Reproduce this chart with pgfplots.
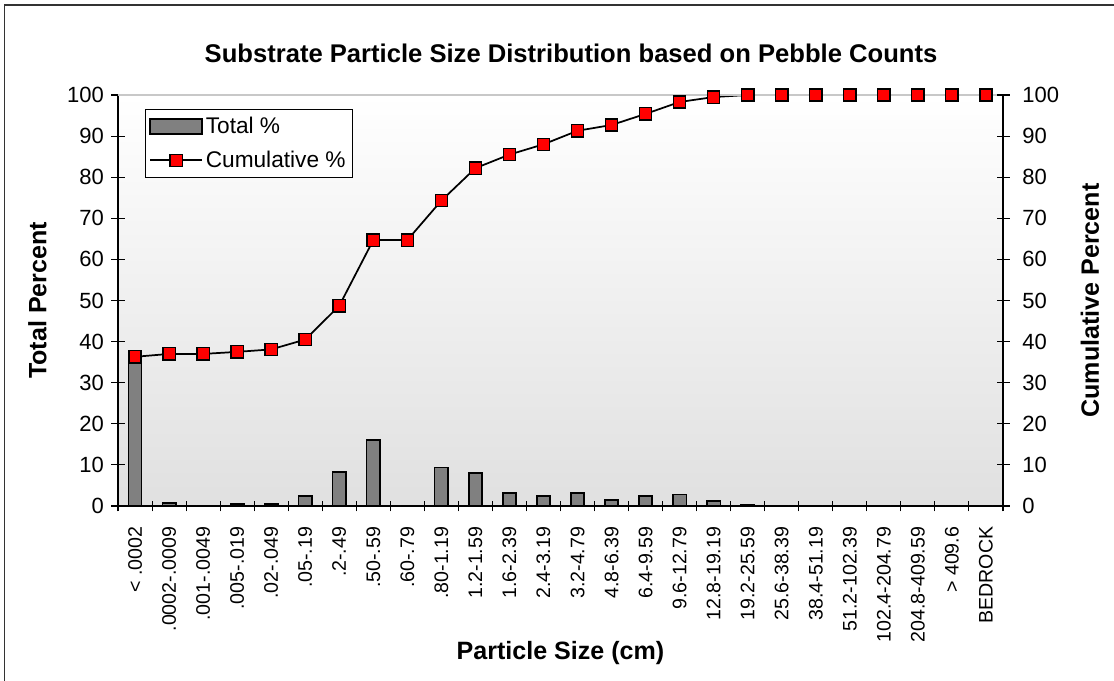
\documentclass[border=0pt]{standalone}
\usepackage{pgfplots}
\pgfplotsset{compat=1.18}
\usepackage{fontspec}
\setmainfont{Liberation Sans}
\definecolor{bargray}{RGB}{128,128,128}
\definecolor{bgbottom}{RGB}{224,224,224}
\definecolor{topline}{RGB}{200,200,200}

\pgfplotstableread{
x total cum
0 36.3 36.3
1 0.8 37.0
2 0.0 37.0
3 0.5 37.5
4 0.5 38.1
5 2.5 40.5
6 8.3 48.7
7 16.1 64.7
8 0.0 64.7
9 9.4 74.3
10 8.0 82.2
11 3.1 85.5
12 2.4 88.0
13 3.1 91.3
14 1.5 92.7
15 2.4 95.4
16 2.8 98.3
17 1.2 99.5
18 0.4 100
19 0 100
20 0 100
21 0 100
22 0 100
23 0 100
24 0 100
25 0 100
}\datatable

\begin{document}
\begin{tikzpicture}
\useasboundingbox (-88.5pt,-131.25pt) rectangle (747pt,379.5pt);
\pgfplotsset{
  every axis/.append style={
    scale only axis, width=663.75pt, height=308.25pt,
    xmin=-0.5, xmax=25.5, ymin=0, ymax=100,
    ytick={0,10,...,100},
    tick align=center,
    major tick length=9.75pt,
    axis line style={-, black, line width=0.8pt},
    tick style={black, line width=0.8pt},
    /pgf/number format/assume math mode=true,
    yticklabel style={font=\fontsize{16.5}{16.5}\selectfont, inner sep=0pt},
  }
}
\begin{axis}[
  axis y line*=left, axis x line*=bottom,
  axis background/.style={shade, top color=white, bottom color=bgbottom},
  xtick={0,...,25},
  major x tick style={draw=none},
  minor xtick={-0.5,0.5,...,25.5},
  minor tick length=8pt,
  minor x tick style={black, line width=0.8pt},
  xticklabels={{< .0002},{.0002-.0009},{.001-.0049},{.005-.019},{.02-.049},{.05-.19},{.2-.49},{.50-.59},{.60-.79},{.80-1.19},{1.2-1.59},{1.6-2.39},{2.4-3.19},{3.2-4.79},{4.8-6.39},{6.4-9.59},{9.6-12.79},{12.8-19.19},{19.2-25.59},{25.6-38.39},{38.4-51.19},{51.2-102.39},{102.4-204.79},{204.8-409.59},{> 409.6},{BEDROCK}},
  xticklabel style={yshift=-10.5pt, rotate=90, anchor=east, inner sep=0pt, font=\fontsize{14.7}{14.7}\selectfont},
  yticklabel style={anchor=east, xshift=-5.6pt},
  title={\bfseries Substrate Particle Size Distribution based on Pebble Counts},
  title style={at={(axis description cs:0.5,1)}, anchor=base, yshift=18pt, xshift=7.9pt, font=\fontsize{19.2}{19.2}\selectfont},
  xlabel={\bfseries Particle Size (cm)},
  xlabel style={at={(axis description cs:0.5,0)}, anchor=base, yshift=-115.5pt, font=\fontsize{18.8}{18.8}\selectfont},
  ylabel={\bfseries Total Percent},
  ylabel style={at={(axis description cs:-0.0910,0.5)}, anchor=center, font=\fontsize{18.8}{18.8}\selectfont},
  legend style={at={(axis description cs:0,1)}, anchor=north west, xshift=20.25pt, yshift=-10.5pt,
    draw=black, line width=0.6pt, fill=white, font=\fontsize{17}{17}\selectfont,
    row sep=7.5pt, inner xsep=3pt, inner ysep=4pt},
  legend cell align=left,
]
\addplot[ybar, bar width=10pt, fill=bargray, draw=black, line width=1.2pt,
  legend image code/.code={\draw[fill=bargray, draw=black, line width=1.2pt] (0pt,-5.5pt) rectangle (39pt,5.5pt);}]
  table[x=x, y=total] {\datatable};
\addlegendentry{Total \%}
\addplot[black, line width=1.3pt, mark=square*, mark size=4.6pt,
  mark options={fill=red, draw=black, line width=1pt, solid},
  legend image code/.code={\draw[black, line width=1.3pt] (0pt,0pt) -- (39pt,0pt); \draw[fill=red, draw=black, line width=1pt] (14.9pt,-4.6pt) rectangle (24.1pt,4.6pt);}]
  table[x=x, y=cum] {\datatable};
\addlegendentry{Cumulative \%}
\draw[topline, line width=1.5pt] (rel axis cs:0,1) -- (rel axis cs:1,1);
\end{axis}
\begin{axis}[
  axis y line*=right, axis x line=none,
  yticklabel style={anchor=west, xshift=9.5pt},
  ylabel={\bfseries Cumulative Percent},
  ylabel style={at={(axis description cs:1.0983,0.5)}, anchor=center, rotate=0, font=\fontsize{18.8}{18.8}\selectfont},
]
\addplot[draw=none] coordinates {(0,0)};
\end{axis}
\draw[black!80, line width=0.9pt] (-85.1pt,-200pt) -- (-85.1pt,375.75pt) -- (800pt,375.75pt);
\end{tikzpicture}
\end{document}
